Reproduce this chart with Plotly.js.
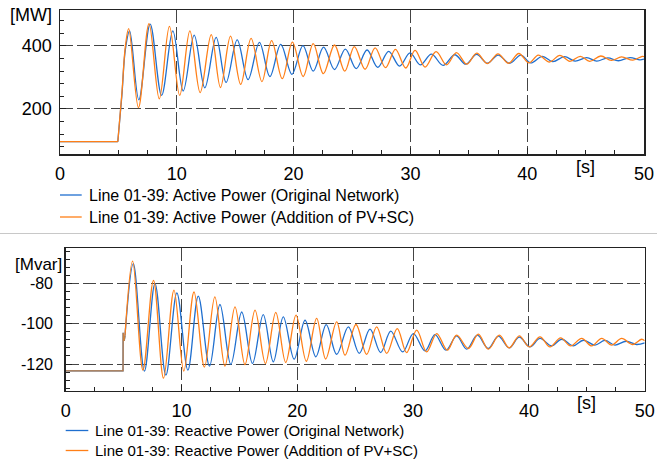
<!DOCTYPE html>
<html>
<head>
<meta charset="utf-8">
<script src="https://cdn.plot.ly/plotly-3.0.1.min.js"></script>
<style>
  html, body { margin: 0; padding: 0; background: #fff; }
  #chart { width: 657px; height: 461px; }
</style>
</head>
<body>
<div id="chart"></div>
<script>
// ---------- Data ----------
// Active power, Line 01-39 [MW]; flat pre-event part shared by both cases
const activeBaseTime  = [0, 4.95];
const activeBaseValue = [96, 96];

// Original Network: turning points of the swing
const activeOrigTime  = [4.95, 5.3, 5.6, 5.96, 6.75, 7.72, 8.7, 9.66, 10.55, 11.49, 12.4, 13.37, 14.22, 15.17, 16.1, 17.07, 17.97, 18.9, 19.86, 20.8, 21.68, 22.57, 23.5, 24.43, 25.36, 26.29, 27.2, 28.14, 29.07, 29.97, 30.85, 31.8, 32.8, 33.8, 34.74, 35.66, 36.6, 37.51, 38.5, 39.45, 40.3, 41.3, 42.2, 43.2, 44.1, 45.1, 45.95, 46.9, 47.8, 48.8, 49.65, 50];
const activeOrigValue = [96, 244, 390, 448, 229, 469, 243, 448, 257, 434, 267, 427, 284, 419, 293, 411, 303, 405, 310, 401, 320, 396, 325, 390, 328, 387, 332, 383, 336, 378, 340, 374, 338, 372, 342, 373, 345, 371, 345, 371, 346, 367, 350, 366, 352, 363, 352, 362, 353, 363, 356, 358];

// Addition of PV+SC
const activePvTime  = [4.95, 5.3, 5.6, 5.88, 6.72, 7.62, 8.5, 9.37, 10.25, 11.12, 12.0, 12.95, 13.74, 14.6, 15.47, 16.36, 17.29, 18.12, 19.03, 19.9, 20.82, 21.68, 22.55, 23.5, 24.38, 25.2, 26.12, 26.98, 27.87, 28.72, 29.6, 30.4, 31.25, 32.2, 33.09, 33.94, 34.83, 35.68, 36.6, 37.5, 38.4, 39.28, 40.15, 40.95, 41.9, 42.8, 43.65, 44.55, 45.35, 46.3, 47.2, 48.08, 49.05, 49.85, 50];
const activePvValue = [96, 250, 400, 455, 204, 471, 232, 462, 243, 448, 252, 436, 268, 431, 278, 424, 287, 417, 296, 412, 303, 407, 312, 403, 320, 398, 326, 394, 331, 389, 330, 386, 333, 382, 340, 379, 342, 377, 344, 375, 345, 376, 346, 371, 349, 370, 351, 367, 351, 368, 354, 365, 355, 367, 366];

// Reactive power, Line 01-39 [Mvar]; pre-event part and switching notch shared by both cases
const reactiveBaseTime  = [0, 4.95, 4.96, 5.05, 5.12];
const reactiveBaseValue = [-123.4, -123.4, -104.5, -108.5, -106];

const reactiveOrigTime  = [5.12, 5.84, 6.8, 7.71, 8.65, 9.6, 10.55, 11.45, 12.42, 13.32, 14.26, 15.2, 16.13, 17.06, 17.93, 18.79, 19.73, 20.67, 21.6, 22.5, 23.4, 24.41, 25.35, 26.28, 27.2, 28.07, 29.1, 30.02, 31.03, 31.89, 32.84, 33.76, 34.63, 35.55, 36.49, 37.36, 38.3, 39.17, 40.09, 40.96, 41.96, 42.83, 43.83, 44.7, 45.7, 46.57, 47.43, 48.39, 49.3, 50];
const reactiveOrigValue = [-106, -70.2, -123.5, -80, -125.5, -84.7, -123, -86.3, -121, -90.5, -120.2, -94.2, -119.7, -95.5, -118.9, -96.6, -117.6, -98.3, -116.4, -100.5, -115.2, -101.6, -114.7, -102.7, -114.3, -103.7, -114, -104.9, -113.5, -105.4, -113.1, -106, -112.6, -105.7, -112.3, -106.2, -112, -106.7, -111.5, -107.3, -111, -107.7, -111, -108.2, -110.6, -108.3, -110.6, -108.7, -110.3, -109.5];

const reactivePvTime  = [5.12, 5.78, 6.67, 7.58, 8.45, 9.35, 10.2, 11.08, 11.98, 12.88, 13.75, 14.62, 15.48, 16.35, 17.25, 18.14, 19.0, 19.89, 20.78, 21.67, 22.45, 23.4, 24.12, 25.07, 25.99, 26.85, 27.72, 28.63, 29.44, 30.31, 31.17, 32.04, 32.95, 33.76, 34.77, 35.63, 36.49, 37.45, 38.3, 39.17, 40.03, 40.96, 41.82, 42.74, 43.6, 44.56, 45.42, 46.29, 47.15, 48.01, 48.96, 49.74, 50];
const reactivePvValue = [-106, -69, -123, -78.5, -127, -83.4, -123.5, -84.3, -121.5, -86.7, -121, -91.7, -120.3, -93.3, -119.7, -94.4, -119.2, -95.8, -118.6, -97.4, -117.5, -99.1, -115.6, -100.4, -115.2, -101.6, -114.7, -102.4, -114.3, -103.2, -114, -104.9, -113.1, -105.7, -112.3, -105.2, -112.6, -105.7, -112, -106, -111.5, -106.5, -111.5, -107, -111, -107.3, -111, -107.3, -110.6, -107.3, -110.3, -107.7, -108.5];

const seriesNames = [
  'Line 01-39: Active Power (Original Network)',
  'Line 01-39: Active Power (Addition of PV+SC)',
  'Line 01-39: Reactive Power (Original Network)',
  'Line 01-39: Reactive Power (Addition of PV+SC)'
];
const xTickVals = [0, 10, 20, 30, 40, 50];
const reactiveTickVals = [-120, -100, -80];
const reactiveTickText = ['-120', '-100', '-80'];

// ---------- Styling ----------
const W = 657, H = 461;
const FONT = '"Liberation Sans", Arial, sans-serif';
const BLUE = '#1f6fcf';
const ORANGE = '#ff7f17';
const px = v => v / W;
const py = v => 1 - v / H;

const traces = [
  {x: activeBaseTime, y: activeBaseValue, xaxis: 'x', yaxis: 'y', mode: 'lines',
   line: {color: BLUE, width: 1.3}, hoverinfo: 'skip'},
  {x: activeOrigTime, y: activeOrigValue, xaxis: 'x', yaxis: 'y', mode: 'lines',
   line: {color: BLUE, width: 1.3, shape: 'spline', smoothing: 1}, name: seriesNames[0]},
  {x: activeBaseTime, y: activeBaseValue, xaxis: 'x', yaxis: 'y', mode: 'lines',
   line: {color: ORANGE, width: 1.3}, hoverinfo: 'skip'},
  {x: activePvTime, y: activePvValue, xaxis: 'x', yaxis: 'y', mode: 'lines',
   line: {color: ORANGE, width: 1.3, shape: 'spline', smoothing: 1}, name: seriesNames[1]},
  {x: reactiveBaseTime, y: reactiveBaseValue, xaxis: 'x2', yaxis: 'y2', mode: 'lines',
   line: {color: BLUE, width: 1.3}, hoverinfo: 'skip'},
  {x: reactiveOrigTime, y: reactiveOrigValue, xaxis: 'x2', yaxis: 'y2', mode: 'lines',
   line: {color: BLUE, width: 1.3, shape: 'spline', smoothing: 1}, name: seriesNames[2]},
  {x: reactiveBaseTime, y: reactiveBaseValue, xaxis: 'x2', yaxis: 'y2', mode: 'lines',
   line: {color: '#c8803f', width: 1.3}, hoverinfo: 'skip'},
  {x: reactivePvTime, y: reactivePvValue, xaxis: 'x2', yaxis: 'y2', mode: 'lines',
   line: {color: ORANGE, width: 1.3, shape: 'spline', smoothing: 1}, name: seriesNames[3]}
];

const gridCommon = {
  showgrid: true, gridcolor: '#444', gridwidth: 1, griddash: '13px,4px',
  zeroline: false, showline: true, mirror: true, linecolor: '#222', linewidth: 1.5,
  ticks: 'inside', ticklen: 6, tickcolor: '#222', tickwidth: 1,
  fixedrange: true
};

// Legend entries drawn under each panel (line sample + label)
const legendRows = [
  {name: seriesNames[0], color: BLUE,   x0: 60,   x1: 81.7, tx: 87.3, y: 195,   size: 16},
  {name: seriesNames[1], color: ORANGE, x0: 60,   x1: 81.7, tx: 87.3, y: 217,   size: 16},
  {name: seriesNames[2], color: BLUE,   x0: 65.7, x1: 88.3, tx: 93.3, y: 430.5, size: 15},
  {name: seriesNames[3], color: ORANGE, x0: 65.7, x1: 88.3, tx: 93.3, y: 450.5, size: 15}
];

const annotations = [
  {text: '[MW]', xref: 'paper', yref: 'paper', x: px(54), y: py(14.7), xanchor: 'right', yanchor: 'middle',
   showarrow: false, font: {size: 18, color: '#000'}},
  {text: '[Mvar]', xref: 'paper', yref: 'paper', x: px(63.5), y: py(264.2), xanchor: 'right', yanchor: 'middle',
   showarrow: false, font: {size: 17, color: '#000'}},
  {text: '[s]', xref: 'x', yref: 'paper', x: 45, y: py(167), xanchor: 'center', yanchor: 'middle',
   showarrow: false, font: {size: 18, color: '#000'}},
  {text: '[s]', xref: 'x2', yref: 'paper', x: 45, y: py(403.3), xanchor: 'center', yanchor: 'middle',
   showarrow: false, font: {size: 18, color: '#000'}}
];
const shapes = [
  {type: 'line', xref: 'paper', yref: 'paper', x0: 0, x1: 1, y0: py(233.5), y1: py(233.5),
   line: {color: '#c8c8c8', width: 1}}
];
legendRows.forEach(r => {
  shapes.push({type: 'line', xref: 'paper', yref: 'paper', x0: px(r.x0), x1: px(r.x1), y0: py(r.y), y1: py(r.y),
               line: {color: r.color, width: 1.3}});
  annotations.push({text: r.name, xref: 'paper', yref: 'paper', x: px(r.tx), y: py(r.y),
                    xanchor: 'left', yanchor: 'middle', showarrow: false,
                    font: {size: r.size, color: '#000'}});
});

const layout = {
  width: W, height: H,
  margin: {l: 0, r: 0, t: 0, b: 0, pad: 0},
  paper_bgcolor: '#fff', plot_bgcolor: '#fff',
  font: {family: FONT, color: '#000'},
  showlegend: false,
  xaxis: Object.assign({}, gridCommon, {
    domain: [px(60), px(644)], range: [0, 50], anchor: 'y',
    tickmode: 'array', tickvals: xTickVals,
    minor: {tickmode: 'linear', tick0: 0, dtick: 2.5, ticks: 'inside', ticklen: 4, tickcolor: '#222', showgrid: false},
    tickfont: {size: 18, color: '#000'}, ticklabelstandoff: 3
  }),
  yaxis: Object.assign({}, gridCommon, {
    domain: [py(154), py(10)], range: [57, 514], anchor: 'x',
    tickmode: 'linear', tick0: 0, dtick: 200,
    minor: {tickmode: 'linear', tick0: 0, dtick: 40, ticks: 'inside', ticklen: 4, tickcolor: '#222', showgrid: false},
    tickfont: {size: 18, color: '#000'}, ticklabelstandoff: 3
  }),
  xaxis2: Object.assign({}, gridCommon, {
    domain: [px(65.7), px(644.7)], range: [0, 50], anchor: 'y2',
    tickmode: 'array', tickvals: xTickVals,
    minor: {tickmode: 'linear', tick0: 0, dtick: 2.5, ticks: 'inside', ticklen: 4, tickcolor: '#222', showgrid: false},
    tickfont: {size: 18, color: '#000'}, ticklabelstandoff: 3
  }),
  yaxis2: Object.assign({}, gridCommon, {
    domain: [py(390.7), py(248)], range: [-133.2, -62.5], anchor: 'x2',
    tickmode: 'array', tickvals: reactiveTickVals, ticktext: reactiveTickText,
    minor: {tickmode: 'linear', tick0: -120, dtick: 4, ticks: 'inside', ticklen: 4, tickcolor: '#222', showgrid: false},
    tickfont: {size: 16, color: '#000'}, ticklabelstandoff: 8
  }),
  annotations: annotations,
  shapes: shapes
};

Plotly.newPlot('chart', traces, layout, {displayModeBar: false, staticPlot: true});
</script>
</body>
</html>
